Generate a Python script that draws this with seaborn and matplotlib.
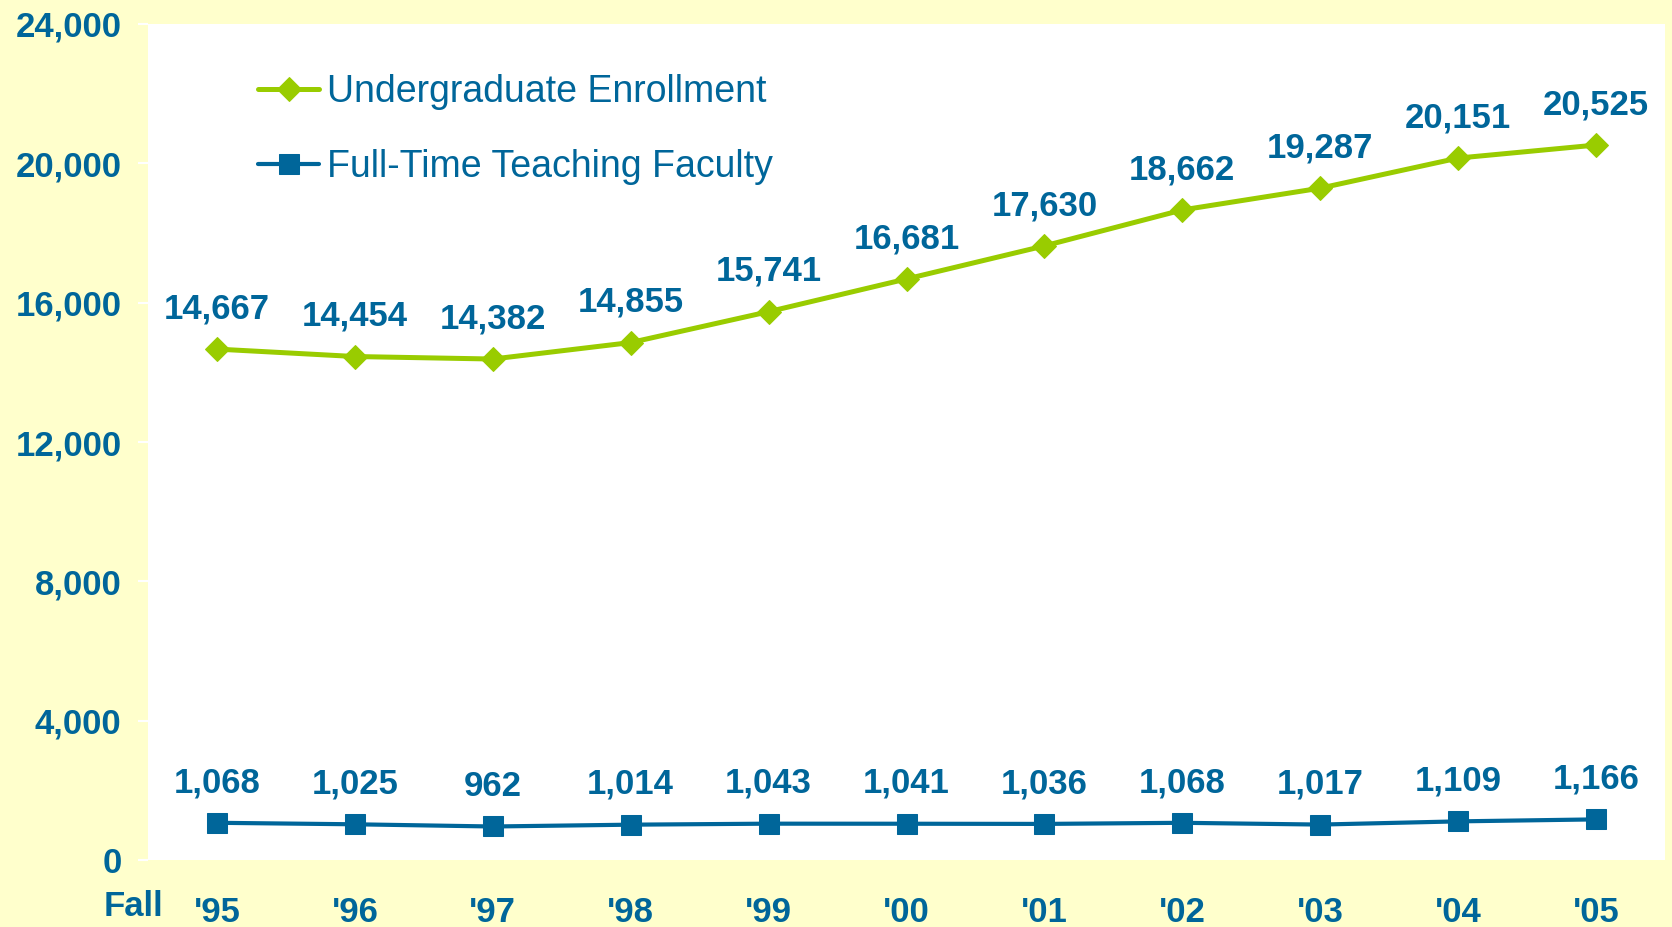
import matplotlib
matplotlib.use("Agg")
import matplotlib.pyplot as plt
import seaborn as sns
import pandas as pd
import numpy as np

years = ["'95", "'96", "'97", "'98", "'99", "'00", "'01", "'02", "'03", "'04", "'05"]
enrollment = [14667, 14454, 14382, 14855, 15741, 16681, 17630, 18662, 19287, 20151, 20525]
faculty = [1068, 1025, 962, 1014, 1043, 1041, 1036, 1068, 1017, 1109, 1166]
yticks = [0, 4000, 8000, 12000, 16000, 20000, 24000]

BLUE = "#00669A"
GREEN = "#99CC00"
BG = "#FFFFCC"

sns.set_theme(style="white")
plt.rcParams['font.family'] = ['Liberation Sans', 'DejaVu Sans']

FS = 25

fig = plt.figure(figsize=(16.72, 9.27), dpi=100, facecolor=BG)
ax = fig.add_axes([148/1672, 1 - 860/927, (1665-148)/1672, (860-24)/927])
ax.set_facecolor("white")

x = np.arange(len(years))
df_e = pd.DataFrame({"x": x, "y": enrollment})
df_f = pd.DataFrame({"x": x, "y": faculty})

sns.lineplot(data=df_e, x="x", y="y", ax=ax, color=GREEN, lw=3.6, marker="D",
             markersize=12, markeredgecolor=GREEN, label="Undergraduate Enrollment")
sns.lineplot(data=df_f, x="x", y="y", ax=ax, color=BLUE, lw=3.0, marker="s",
             markersize=15, markeredgecolor=BLUE, label="Full-Time Teaching Faculty")

for xi, v in zip(x, enrollment):
    ax.annotate(f"{v:,}", (xi, v), xytext=(0, 29), textcoords="offset points",
                ha="center", va="center", fontsize=FS, fontweight="bold", color=BLUE)
for xi, v in zip(x, faculty):
    ax.annotate(f"{v:,}", (xi, v), xytext=(0, 29), textcoords="offset points",
                ha="center", va="center", fontsize=FS, fontweight="bold", color=BLUE)

ax.set_xlim(-0.5, len(years) - 0.5)
ax.set_ylim(0, 24000)
ax.set_yticks(yticks)
ax.set_yticklabels([f"{t:,}" for t in yticks])
ax.set_xticks(x)
ax.set_xticklabels(years)
ax.set_xticks(np.arange(len(years) + 1) - 0.5, minor=True)
ax.tick_params(axis="x", which="major", length=0, pad=26, labelsize=FS, labelcolor=BLUE)
ax.tick_params(axis="x", which="minor", length=7, width=1.5, color="white", direction="out")
ax.tick_params(axis="y", which="major", length=7, width=1.5, color="white", pad=12,
               labelsize=FS, labelcolor=BLUE, left=True)
for lab in ax.get_xticklabels() + ax.get_yticklabels():
    lab.set_fontweight("bold")
for s in ax.spines.values():
    s.set_visible(False)
ax.set_xlabel("")
ax.set_ylabel("")

fig.text(133/1672, 1 - 906/927, "Fall", ha="center", va="center", fontsize=FS,
         fontweight="bold", color=BLUE)

leg = ax.legend(loc="upper left", bbox_to_anchor=(0.05, 0.98), frameon=False,
                fontsize=27, labelcolor=BLUE, handlelength=1.65, handletextpad=0.2,
                labelspacing=1.02)

fig.savefig("out.png", dpi=100, facecolor=BG)
